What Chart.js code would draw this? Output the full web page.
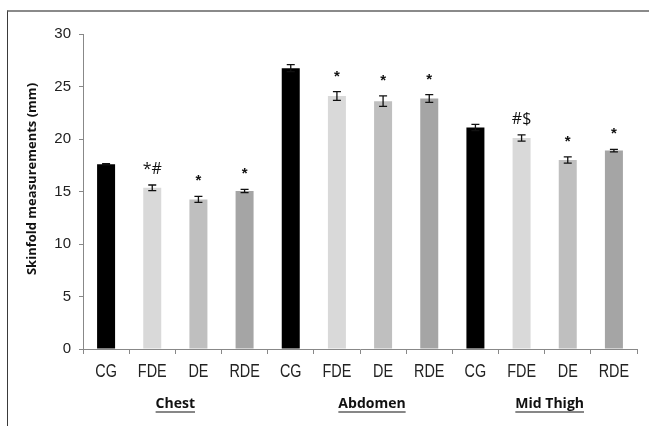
<!DOCTYPE html>
<html>
<head>
<meta charset="utf-8">
<script src="https://cdn.jsdelivr.net/npm/chart.js@4/dist/chart.umd.min.js"></script>
<style>
  html, body { margin: 0; padding: 0; background: #fff; }
  #frame { position: absolute; left: 7px; top: 10px; width: 700px; height: 500px;
           border-left: 1px solid #3a3a3a; border-top: 2px solid #8a8a8a; }
  #wrap { position: absolute; left: 0; top: 0; width: 649px; height: 426px; }
</style>
</head>
<body>
<div id="frame"></div>
<div id="wrap"><canvas id="c"></canvas></div>
<script>
// ---- data ----
const categories = ['CG', 'FDE', 'DE', 'RDE', 'CG', 'FDE', 'DE', 'RDE', 'CG', 'FDE', 'DE', 'RDE'];
const groups = ['Chest', 'Abdomen', 'Mid Thigh'];
const means = [17.6, 15.35, 14.25, 15.05, 26.75, 24.1, 23.6, 23.85, 21.1, 20.1, 18.0, 18.9];
const errors = [0.05, 0.27, 0.28, 0.15, 0.33, 0.42, 0.5, 0.37, 0.3, 0.3, 0.3, 0.12];
const marks = ['', '*#', '*', '*', '', '*', '*', '*', '', '#$', '*', '*'];
const yTicks = [0, 5, 10, 15, 20, 25, 30];
const yTitle = 'Skinfold measurements (mm)';

const groupColors = ['#000000', '#d9d9d9', '#bfbfbf', '#a5a5a5'];
const barColors = categories.map((_, i) => groupColors[i % 4]);
const groupOffsets = [0, 12, 5];

const overlay = {
  id: 'overlay',
  afterDatasetsDraw(chart) {
    const ctx = chart.ctx;
    const xs = chart.scales.x, ys = chart.scales.y;
    ctx.save();
    // error bars
    ctx.strokeStyle = '#111';
    ctx.lineWidth = 1.3;
    means.forEach((m, i) => {
      const x = xs.getPixelForValue(i);
      const yt = ys.getPixelForValue(m + errors[i]);
      const yb = ys.getPixelForValue(m - errors[i]);
      ctx.beginPath();
      ctx.moveTo(x, yt); ctx.lineTo(x, yb);
      ctx.moveTo(x - 4, yt); ctx.lineTo(x + 4, yt);
      ctx.moveTo(x - 4, yb); ctx.lineTo(x + 4, yb);
      ctx.stroke();
    });
    // significance marks
    ctx.fillStyle = '#111';
    ctx.textAlign = 'center';
    ctx.textBaseline = 'alphabetic';
    marks.forEach((t, i) => {
      if (!t) return;
      const x = xs.getPixelForValue(i);
      const yt = ys.getPixelForValue(means[i] + errors[i]);
      ctx.font = t === '*' ? 'bold 15px "Liberation Sans", Arial, sans-serif' : '16px "Open Sans", sans-serif';
      ctx.fillText(t, x, yt - 11);
    });
    ctx.restore();
  },
  afterDraw(chart) {
    const ctx = chart.ctx;
    const xs = chart.scales.x;
    // category labels (condensed, as in the reference)
    ctx.save();
    ctx.fillStyle = '#222';
    ctx.font = '18px "Liberation Sans", Arial, sans-serif';
    ctx.textAlign = 'center';
    ctx.textBaseline = 'middle';
    categories.forEach((c, i) => {
      const x = xs.getPixelForValue(i);
      ctx.save();
      ctx.translate(x, 372);
      ctx.scale(0.8, 1);
      ctx.fillText(c, 0, 0);
      ctx.restore();
    });
    ctx.restore();
    // y title
    ctx.save();
    ctx.fillStyle = '#111';
    ctx.font = 'bold 13px "Open Sans", sans-serif';
    ctx.textAlign = 'center';
    ctx.textBaseline = 'middle';
    ctx.translate(32, 179);
    ctx.rotate(-Math.PI / 2);
    ctx.fillText(yTitle, 0, 0);
    ctx.restore();
    // group labels
    ctx.save();
    ctx.fillStyle = '#111';
    ctx.strokeStyle = '#111';
    ctx.font = 'bold 14px "Open Sans", sans-serif';
    ctx.textAlign = 'center';
    ctx.textBaseline = 'middle';
    groups.forEach((g, gi) => {
      const x = (xs.getPixelForValue(gi * 4) + xs.getPixelForValue(gi * 4 + 3)) / 2 + groupOffsets[gi];
      const y = 404;
      ctx.fillText(g, x, y);
      const w = ctx.measureText(g).width;
      ctx.lineWidth = 1.2;
      ctx.beginPath();
      ctx.moveTo(x - w / 2, y + 8);
      ctx.lineTo(x + w / 2, y + 8);
      ctx.stroke();
    });
    ctx.restore();
  }
};

new Chart(document.getElementById('c'), {
  type: 'bar',
  data: {
    labels: categories,
    datasets: [{
      data: means,
      backgroundColor: barColors,
      borderWidth: 0,
      barPercentage: 0.39,
      categoryPercentage: 1.0
    }]
  },
  options: {
    responsive: true,
    maintainAspectRatio: false,
    animation: false,
    events: [],
    layout: { padding: { top: 34, right: 12, left: 0, bottom: 0 } },
    plugins: { legend: { display: false }, tooltip: { enabled: false }, title: { display: false } },
    scales: {
      x: {
        offset: true,
        grid: { display: true, drawOnChartArea: false, offset: true, tickLength: 5, color: '#888', tickWidth: 1 },
        border: { display: true, color: '#888', width: 1 },
        ticks: { display: false },
        afterFit(s) { s.height = 77; }
      },
      y: {
        min: 0, max: 30,
        afterBuildTicks(s) { s.ticks = yTicks.map(v => ({ value: v })); },
        grid: { display: true, drawOnChartArea: false, tickLength: 4, color: '#888' },
        border: { display: true, color: '#888', width: 1 },
        ticks: { color: '#222', font: { family: '"Liberation Sans", Arial, sans-serif', size: 15 }, padding: 8 },
        afterFit(s) { s.width = 83; }
      }
    }
  },
  plugins: [overlay]
});
</script>
</body>
</html>
